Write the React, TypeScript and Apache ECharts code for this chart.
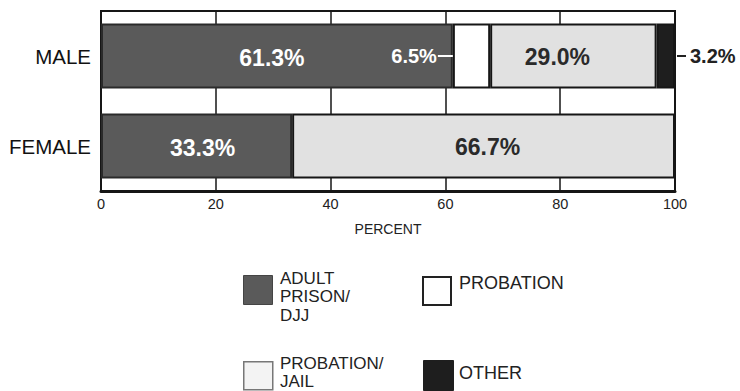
import React, { useEffect, useRef } from "react";
import * as echarts from "echarts";

const categories = ["FEMALE", "MALE"];
const seriesNames = ["ADULT PRISON/DJJ", "PROBATION", "PROBATION/JAIL", "OTHER"];
const adultPrison = [33.3, 61.3];
const probation = [0, 6.5];
const probationJail = [66.7, 29.0];
const other = [0, 3.2];
const xTicks = [0, 20, 40, 60, 80, 100];

const FONT = "Liberation Sans";
const DARK = "#5a5a5a";
const LIGHT = "#e1e1e1";
const BLACK = "#1e1e1e";
const EDGE = "#161616";

export default function App() {
  const ref = useRef<HTMLDivElement>(null);
  useEffect(() => {
    if (!ref.current) return;
    const chart = echarts.init(ref.current, undefined, { renderer: "svg" });
    const fmt = (v: number) => v.toFixed(1) + "%";
    const toData = (arr: number[], labelFor: (i: number, v: number) => any) =>
      arr.map((v, i) => ({
        value: v === 0 ? "-" : v,
        label: v === 0 ? { show: false } : labelFor(i, v),
      }));

    const common = {
      type: "bar",
      stack: "total",
      barWidth: 65,
      itemStyle: { borderColor: EDGE, borderWidth: 2 },
    };

    chart.setOption({
      animation: false,
      textStyle: { fontFamily: FONT },
      grid: {
        left: 101,
        right: 65,
        top: 11,
        bottom: 200,
        show: true,
        borderColor: EDGE,
        borderWidth: 2,
        backgroundColor: "transparent",
      },
      xAxis: {
        type: "value",
        min: 0,
        max: 100,
        interval: 20,
        name: "PERCENT",
        nameLocation: "middle",
        nameGap: 31,
        nameTextStyle: { fontSize: 14, color: "#222", fontFamily: FONT },
        axisLine: { show: true, lineStyle: { color: EDGE, width: 3 } },
        axisTick: { show: false },
        splitLine: { show: true, lineStyle: { color: EDGE, width: 1.5 } },
        axisLabel: {
          fontSize: 14.5,
          color: "#222",
          margin: 5,
          fontFamily: FONT,
          formatter: (v: number) => (xTicks.includes(v) ? String(v) : ""),
        },
      },
      yAxis: {
        type: "category",
        data: categories,
        axisLine: { show: true, lineStyle: { color: EDGE, width: 2 } },
        axisTick: { show: false },
        splitLine: { show: false },
        axisLabel: { fontSize: 20.5, color: "#111", margin: 10, fontFamily: FONT },
      },
      series: [
        {
          ...common,
          name: seriesNames[0],
          itemStyle: { color: DARK, borderColor: "#2a2a2a", borderWidth: 2 },
          data: toData(adultPrison, (i, v) => ({
            show: true,
            position: "inside",
            offset: [i === 1 ? -5 : 6, 2],
            formatter: fmt(v),
            color: "#fff",
            fontWeight: "bold",
            fontSize: 23,
            fontFamily: FONT,
          })),
        },
        {
          ...common,
          name: seriesNames[1],
          itemStyle: { color: "#ffffff", borderColor: EDGE, borderWidth: 2 },
          data: toData(probation, (i, v) => ({
            show: true,
            position: "left",
            distance: 0,
            formatter: "{t|" + fmt(v) + "}{l|}",
            rich: {
              t: { color: "#fff", fontWeight: "bold", fontSize: 20, fontFamily: FONT, padding: [0, 1, 0, 0] },
              l: { width: 15, height: 2, backgroundColor: "#fff" },
            },
          })),
        },
        {
          ...common,
          name: seriesNames[2],
          itemStyle: { color: LIGHT, borderColor: EDGE, borderWidth: 2 },
          data: toData(probationJail, (i, v) => ({
            show: true,
            position: "inside",
            offset: [i === 1 ? -16 : 4, 1],
            formatter: fmt(v),
            color: "#2a2a2a",
            fontWeight: "bold",
            fontSize: 23,
            fontFamily: FONT,
          })),
        },
        {
          ...common,
          name: seriesNames[3],
          itemStyle: { color: BLACK, borderColor: EDGE, borderWidth: 2 },
          data: toData(other, (i, v) => ({
            show: true,
            position: "right",
            distance: 2,
            formatter: "{l|}{t|" + fmt(v) + "}",
            rich: {
              l: { width: 9, height: 2, backgroundColor: "#222" },
              t: { color: "#222", fontWeight: "bold", fontSize: 20, fontFamily: FONT, padding: [0, 0, 0, 4] },
            },
          })),
        },
      ],
      graphic: [
        { type: "rect", left: 243, top: 275, shape: { width: 29, height: 29 }, style: { fill: DARK, stroke: "#444", lineWidth: 1 } },
        {
          type: "text", left: 280, top: 269,
          style: { text: "ADULT\nPRISON/\nDJJ", fontSize: 17, lineHeight: 18.5, fill: "#222", fontFamily: FONT },
        },
        { type: "rect", left: 422, top: 276, shape: { width: 28, height: 28 }, style: { fill: "#fff", stroke: "#222", lineWidth: 2 } },
        {
          type: "text", left: 459, top: 274,
          style: { text: "PROBATION", fontSize: 18, lineHeight: 18, fill: "#222", fontFamily: FONT },
        },
        { type: "rect", left: 243, top: 361, shape: { width: 29, height: 28 }, style: { fill: "#f3f3f3", stroke: "#777", lineWidth: 1.5 } },
        {
          type: "text", left: 280, top: 354,
          style: { text: "PROBATION/\nJAIL", fontSize: 17, lineHeight: 18.5, fill: "#222", fontFamily: FONT },
        },
        { type: "rect", left: 423, top: 360, shape: { width: 30, height: 30 }, style: { fill: BLACK, stroke: BLACK, lineWidth: 1 } },
        {
          type: "text", left: 459, top: 364,
          style: { text: "OTHER", fontSize: 18, lineHeight: 18, fill: "#222", fontFamily: FONT },
        },
      ],
    });
    return () => chart.dispose();
  }, []);
  return (
    <div
      ref={ref}
      style={{ position: "fixed", left: 0, top: 0, width: 740, height: 391, background: "#fff" }}
    />
  );
}
